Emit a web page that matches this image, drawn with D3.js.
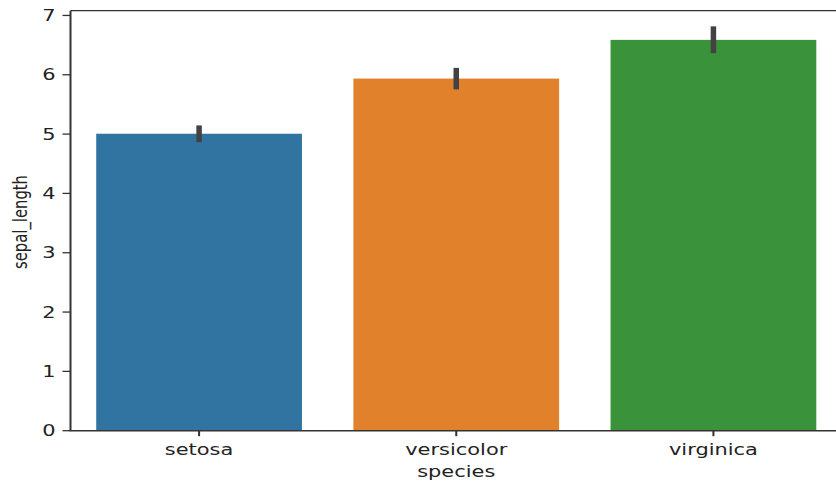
<!DOCTYPE html>
<html>
<head>
<meta charset="utf-8">
<script src="https://cdn.jsdelivr.net/npm/d3@7"></script>
<style>
  html, body { margin: 0; padding: 0; background: #fff; }
  svg { display: block; }
  text { font-family: "DejaVu Sans", sans-serif; fill: #222; }
</style>
</head>
<body>
<svg id="chart" width="836" height="487"></svg>
<script>
// Iris: mean sepal length per species with 95% CI
const species = ["setosa", "versicolor", "virginica"];
const meanSepal = [5.006, 5.936, 6.588];
const ciLow = [4.91, 5.80, 6.41];
const ciHigh = [5.10, 6.07, 6.77];
const barColors = ["#3274a1", "#e1812c", "#3a923a"];
const yTicks = [0, 1, 2, 3, 4, 5, 6, 7];

const svg = d3.select("#chart");
const plotLeft = 70.5, plotRight = 842, plotTop = 10.7, plotBottom = 430.7;
const sx = 1.35; // horizontal glyph stretch

const x = d3.scaleBand().domain(species).range([plotLeft, plotRight])
  .paddingInner(0.2).paddingOuter(0.1);
const y = d3.scaleLinear().domain([0, 7.08]).range([plotBottom, plotTop]);

const rows = species.map((s, i) => ({ s, m: meanSepal[i], lo: ciLow[i], hi: ciHigh[i], c: barColors[i] }));

// bars
svg.append("g").selectAll("rect").data(rows).join("rect")
  .attr("x", d => x(d.s))
  .attr("width", x.bandwidth())
  .attr("y", d => y(d.m))
  .attr("height", d => y(0) - y(d.m))
  .attr("fill", d => d.c);

// error bars
svg.append("g").selectAll("line").data(rows).join("line")
  .attr("x1", d => x(d.s) + x.bandwidth() / 2)
  .attr("x2", d => x(d.s) + x.bandwidth() / 2)
  .attr("y1", d => y(d.lo))
  .attr("y2", d => y(d.hi))
  .attr("stroke", "#424242")
  .attr("stroke-width", 5.5)
  .attr("stroke-linecap", "square");

// spines
const ax = svg.append("g").attr("stroke", "#333").attr("fill", "none");
ax.append("line").attr("x1", plotLeft).attr("x2", plotLeft).attr("y1", plotTop).attr("y2", plotBottom).attr("stroke-width", 2);
ax.append("line").attr("x1", plotLeft).attr("x2", plotRight).attr("y1", plotTop).attr("y2", plotTop).attr("stroke-width", 1.2);
ax.append("line").attr("x1", plotLeft - 1).attr("x2", plotRight).attr("y1", plotBottom).attr("y2", plotBottom).attr("stroke-width", 1.4);

// y axis ticks and labels
const yg = svg.append("g");
yTicks.forEach(t => {
  yg.append("line").attr("x1", plotLeft - 8).attr("x2", plotLeft).attr("y1", y(t)).attr("y2", y(t))
    .attr("stroke", "#333").attr("stroke-width", 1.3);
  yg.append("text")
    .attr("transform", `translate(${plotLeft - 15},${y(t)}) scale(${sx},1)`)
    .attr("text-anchor", "end").attr("dominant-baseline", "central")
    .attr("font-size", 15.5).text(t);
});

// x axis ticks and labels
const xg = svg.append("g");
species.forEach(s => {
  const cx = x(s) + x.bandwidth() / 2;
  xg.append("line").attr("x1", cx).attr("x2", cx).attr("y1", plotBottom).attr("y2", plotBottom + 5.5)
    .attr("stroke", "#333").attr("stroke-width", 2);
  xg.append("text")
    .attr("transform", `translate(${cx},454.5) scale(${sx},1)`)
    .attr("text-anchor", "middle").attr("font-size", 15.5).text(s);
});

// axis titles
svg.append("text")
  .attr("transform", `translate(${x("versicolor") + x.bandwidth() / 2},476.5) scale(${sx},1)`)
  .attr("text-anchor", "middle").attr("font-size", 15.5).text("species");
svg.append("text")
  .attr("transform", `translate(26.5,222) scale(1.3,1) rotate(-90)`)
  .attr("text-anchor", "middle").attr("font-size", 14.8).text("sepal_length");
</script>
</body>
</html>
